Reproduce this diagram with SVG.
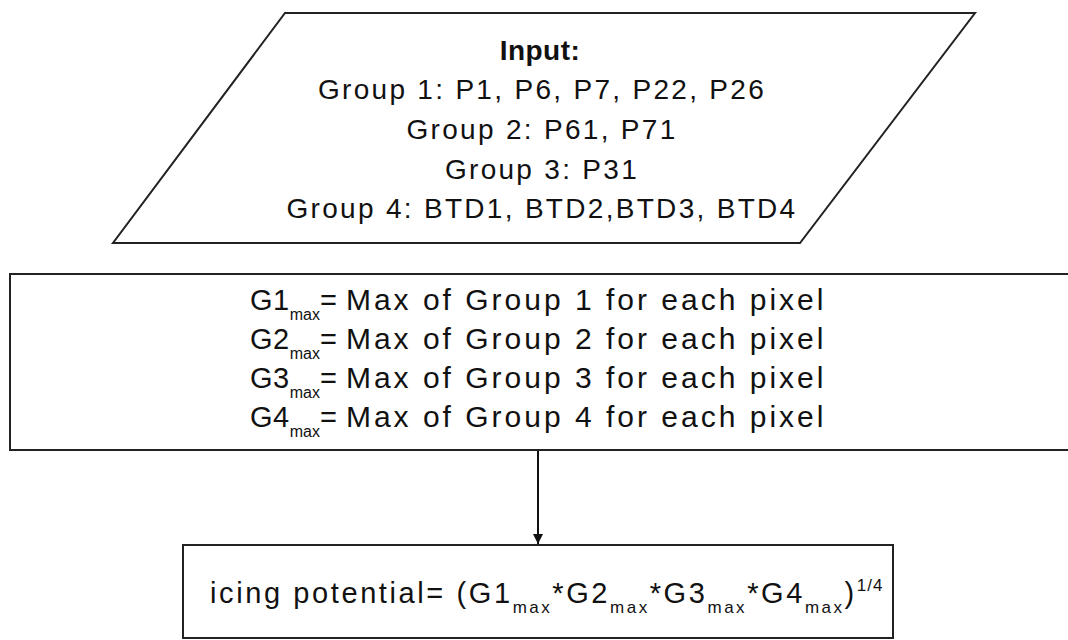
<svg xmlns="http://www.w3.org/2000/svg" width="1068" height="640" viewBox="0 0 1068 640">
<defs>
<style>
.t{font-family:"Liberation Sans",Arial,sans-serif;font-size:28px;fill:#111;letter-spacing:2.3px}
.b{font-weight:bold;letter-spacing:0.5px}
.m{letter-spacing:0.5px;font-size:29px}
.r{letter-spacing:3px;font-size:30px}
.s{font-size:17px;letter-spacing:1px}
.sr{font-size:16px;letter-spacing:0}
.sf{font-size:17px;letter-spacing:2.5px}
.f{font-size:29px;letter-spacing:2.6px}
.shape{fill:#fff;stroke:#222;stroke-width:2}
</style>
<marker id="ah" viewBox="0 0 10 10" refX="10" refY="5" markerWidth="10" markerHeight="10" markerUnits="userSpaceOnUse" orient="auto">
<path d="M0,0 L10,5 L0,10 z" fill="#111"/>
</marker>
</defs>
<rect width="1068" height="640" fill="#fff"/>
<g id="connectors">
<line x1="538" y1="451" x2="538" y2="544" stroke="#111" stroke-width="2" marker-end="url(#ah)"/>
</g>
<g id="input">
<polygon class="shape" points="285,13 975,13 800,243 113,243" stroke="#555"/>
<text class="t b" x="540" y="60" text-anchor="middle">Input:</text>
<text class="t" x="542" y="99" text-anchor="middle">Group 1: P1, P6, P7, P22, P26</text>
<text class="t" x="542" y="139" text-anchor="middle">Group 2: P61, P71</text>
<text class="t" x="542" y="179" text-anchor="middle">Group 3: P31</text>
<text class="t" x="542" y="218" text-anchor="middle">Group 4: BTD1, BTD2,BTD3, BTD4</text>
</g>
<g id="max">
<rect class="shape" x="10" y="274" width="1070" height="176"/>
<text class="t m" x="250" y="310">G1<tspan class="sr" dy="10">max</tspan><tspan dy="-10" class="m">=  </tspan><tspan class="r">Max of Group 1 for each pixel</tspan></text>
<text class="t m" x="250" y="349">G2<tspan class="sr" dy="10">max</tspan><tspan dy="-10" class="m">=  </tspan><tspan class="r">Max of Group 2 for each pixel</tspan></text>
<text class="t m" x="250" y="388">G3<tspan class="sr" dy="10">max</tspan><tspan dy="-10" class="m">=  </tspan><tspan class="r">Max of Group 3 for each pixel</tspan></text>
<text class="t m" x="250" y="427">G4<tspan class="sr" dy="10">max</tspan><tspan dy="-10" class="m">=  </tspan><tspan class="r">Max of Group 4 for each pixel</tspan></text>
</g>
<g id="icing">
<rect class="shape" x="183" y="545" width="710" height="93"/>
<text class="t f" x="210" y="603">icing potential= (G1<tspan class="sf" dy="10">max</tspan><tspan dy="-10">*G2</tspan><tspan class="sf" dy="10">max</tspan><tspan dy="-10">*G3</tspan><tspan class="sf" dy="10">max</tspan><tspan dy="-10">*G4</tspan><tspan class="sf" dy="10">max</tspan><tspan dy="-10">)</tspan><tspan class="s" dy="-12">1/4</tspan></text>
</g>
</svg>
